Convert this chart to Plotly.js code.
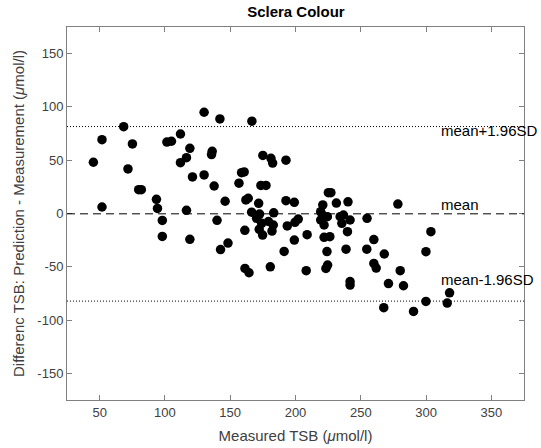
<!DOCTYPE html>
<html>
<head>
<meta charset="utf-8">
<script src="https://cdn.plot.ly/plotly-3.0.1.min.js"></script>
<style>html,body{margin:0;padding:0;background:#fff;}#chart{width:541px;height:448px;}</style>
</head>
<body>
<div id="chart"></div>
<script>
// Measured TSB (µmol/l)
const measured = [
  68.4, 51.8, 75.1, 45.2, 71.7, 79.9, 81.9, 51.8, 93.5, 94.3, 98.0, 98.0,
  101.5, 105.0, 130.0, 142.1, 166.6, 111.9, 119.1, 116.5, 111.9, 136.2, 135.7,
  121.1, 130.0, 137.7, 158.7, 160.7, 156.7, 175.0, 181.2, 182.5, 192.7, 173.5,
  177.4, 146.1, 162.0, 163.8, 116.5, 139.9, 119.1, 142.6, 148.3, 161.2, 161.3,
  164.4, 180.7, 171.8, 166.4, 172.5, 170.2, 183.3, 174.1, 179.3, 172.2, 174.8,
  182.0, 183.0,
  192.7, 199.1, 225.2, 227.1, 220.9, 231.3, 240.2, 202.1, 199.6, 193.7, 199.1,
  208.9, 191.3, 208.2, 219.3, 220.6, 219.3, 221.9, 224.4, 234.2, 236.7, 235.5,
  241.8, 239.8, 221.9, 226.3, 224.1, 238.7, 224.6, 223.3, 241.8, 241.8, 254.8,
  254.6, 260.0, 260.0, 261.8, 268.0, 271.2, 267.6,
  278.4, 280.2, 282.7, 303.7, 299.9, 318.0, 299.9, 316.2, 290.4
];
// Difference: Prediction - Measurement (µmol/l)
const difference = [
  81.5, 69.3, 65.3, 48.1, 41.8, 22.4, 22.4, 6.1, 13.3, 4.8, -6.5, -21.5,
  67.0, 67.8, 95.0, 88.7, 86.6, 74.6, 61.2, 52.4, 47.7, 58.3, 55.3,
  34.3, 36.2, 25.8, 38.3, 39.0, 28.4, 54.5, 51.8, 47.3, 50.0, 26.3,
  26.3, 11.5, 12.7, 14.3, 3.0, -6.4, -24.2, -33.8, -27.7, -15.8, -51.5,
  -55.6, -50.0, 9.6, 1.2, -0.5, -4.5, 0.6, -9.2, -7.5, -14.8, -20.2,
  -16.5, -10.8,
  12.0, 10.5, 19.5, 19.5, 8.0, 9.8, 11.0, -5.2, -8.3, -11.7, -24.9,
  -19.9, -35.6, -53.7, 1.7, -1.4, -6.1, -10.8, -3.0, -3.0, -1.4, -9.2,
  -6.1, -17.1, -22.3, -21.8, -35.7, -33.5, -48.4, -51.5, -63.8, -67.2, -4.5,
  -33.5, -24.5, -46.8, -51.2, -38.0, -65.8, -88.4,
  8.9, -53.7, -67.8, -17.1, -35.8, -74.4, -82.5, -84.0, -91.9
];
const meanDiff = -0.3;
const upperLoA = 81.6;
const lowerLoA = -82.2;
const lineLabels = ["mean+1.96SD", "mean", "mean-1.96SD"];
const xTicks = [50, 100, 150, 200, 250, 300, 350];
const yTicks = [-150, -100, -50, 0, 50, 100, 150];

const xRange = [25, 375];
const yRange = [-175, 175];
const labelX = 310;
const FONT = 'Liberation Sans, Arial, sans-serif';

const trace = {
  x: measured, y: difference, type: 'scatter', mode: 'markers',
  marker: {color: '#000', size: 9.5, line: {width: 0}},
  hoverinfo: 'x+y', showlegend: false
};

const axisCommon = {
  showgrid: false, zeroline: false, showline: true, linecolor: '#808080', linewidth: 1,
  mirror: 'ticks', ticks: 'inside', ticklen: 5, tickwidth: 1, tickcolor: '#808080',
  tickfont: {family: FONT, size: 13, color: '#404040'}
};

const layout = {
  width: 541, height: 448,
  margin: {l: 67, r: 17, t: 27, b: 48},
  paper_bgcolor: '#fff', plot_bgcolor: '#fff',
  title: {text: '<b>Sclera Colour</b>', x: 0.547, xanchor: 'center', y: 0.973, yanchor: 'middle',
          font: {family: FONT, size: 15, color: '#000'}},
  xaxis: Object.assign({}, axisCommon, {
    range: xRange, tickvals: xTicks, ticktext: xTicks.map(String),
    title: {text: 'Measured TSB (<i>μ</i>mol/l)', standoff: 11,
            font: {family: FONT, size: 15, color: '#404040'}}
  }),
  yaxis: Object.assign({}, axisCommon, {
    range: yRange, tickvals: yTicks, ticktext: yTicks.map(String),
    title: {text: 'Differenc TSB: Prediction - Measurement (<i>μ</i>mol/l)', standoff: 9,
            font: {family: FONT, size: 15, color: '#404040'}}
  }),
  shapes: [
    {type: 'line', xref: 'paper', x0: 0, x1: 1, yref: 'y', y0: upperLoA, y1: upperLoA,
     line: {color: '#000', width: 1, dash: '1px,2px'}},
    {type: 'line', xref: 'paper', x0: 0, x1: 1, yref: 'y', y0: meanDiff, y1: meanDiff,
     line: {color: '#000', width: 1, dash: '8px,5px'}},
    {type: 'line', xref: 'paper', x0: 0, x1: 1, yref: 'y', y0: lowerLoA, y1: lowerLoA,
     line: {color: '#000', width: 1, dash: '1px,2px'}}
  ],
  annotations: [
    {x: labelX, y: upperLoA - 4, text: lineLabels[0]},
    {x: labelX, y: meanDiff + 9, text: lineLabels[1]},
    {x: labelX, y: lowerLoA + 20, text: lineLabels[2]}
  ].map(a => Object.assign(a, {xref: 'x', yref: 'y', xanchor: 'left', yanchor: 'middle',
      showarrow: false, font: {family: FONT, size: 15, color: '#000'}}))
};

Plotly.newPlot('chart', [trace], layout, {displayModeBar: false, staticPlot: true});
</script>
</body>
</html>
